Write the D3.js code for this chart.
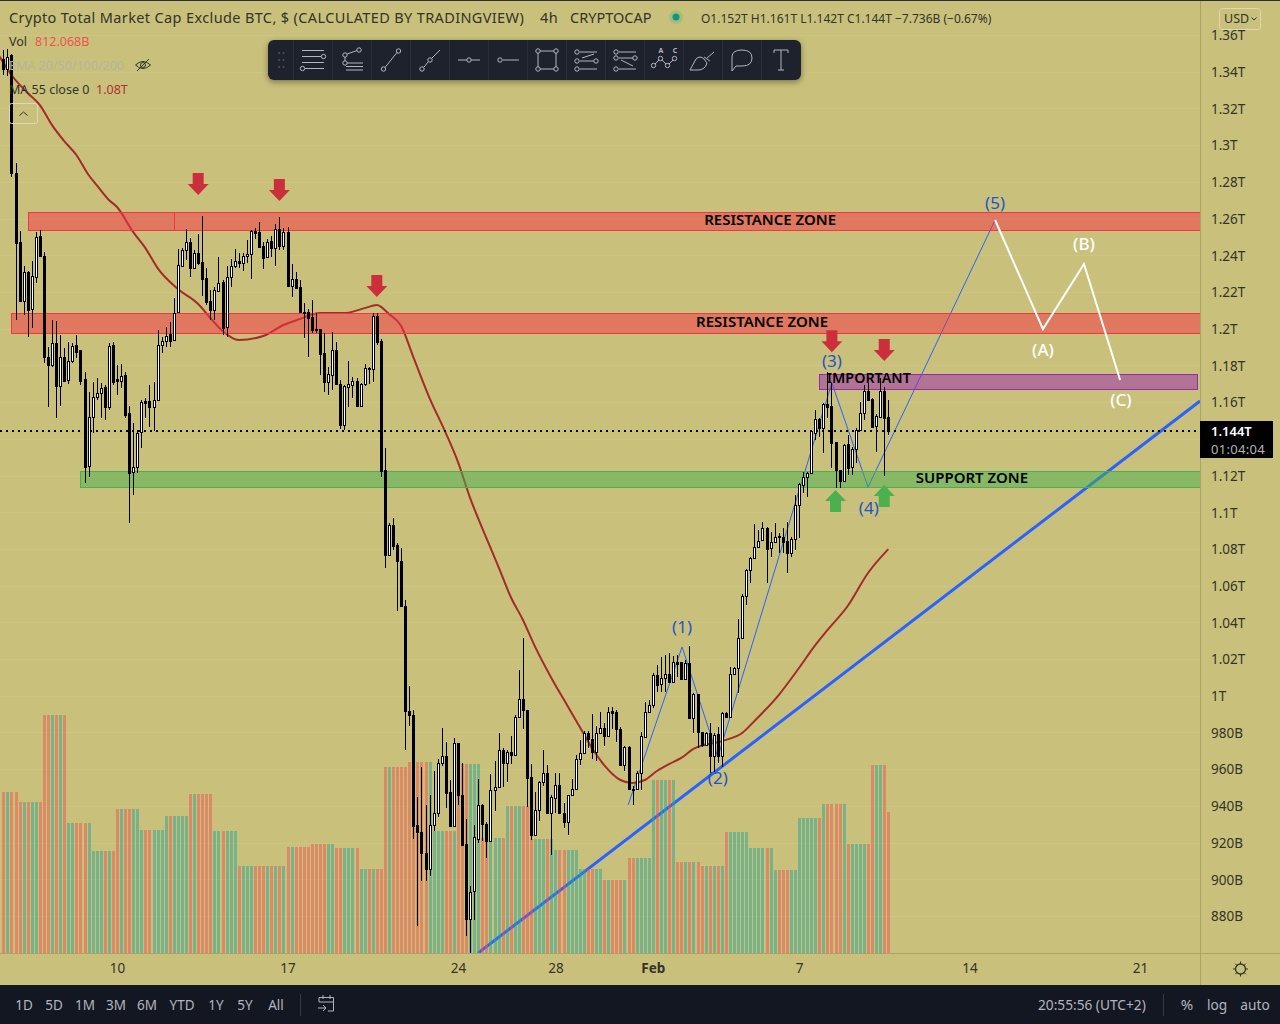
<!DOCTYPE html>
<html>
<head>
<meta charset="utf-8">
<script src="https://cdnjs.cloudflare.com/ajax/libs/d3/7.8.5/d3.min.js"></script>
<style>
html, body { margin: 0; padding: 0; background: #c9c17b; overflow: hidden; }
svg { display: block; font-family: "Noto Sans", sans-serif; }
</style>
</head>
<body>
<svg id="chart" width="1280" height="1024"></svg>
<script>
// candles are 4h, values in billions USD
const opens = [
  1346.9,1341.4,1349.1,1284.8,1247.2,1215.1,1230.9,1210.7,1228.1,1250.4,
  1239.6,1184.5,1180.2,1192.2,1168.7,1184.5,1172,1182.4,1191.1,1188.4,
  1172.6,1125.2,1151.8,1162.7,1164.9,1168.2,1157.3,1191.1,1172.6,1171.5,
  1174.7,1154,1121.9,1124.6,1143.7,1160.6,1160.6,1157.3,1161.1,1191.1,
  1193.3,1197.1,1193.8,1209.1,1234.1,1242.8,1247.2,1233,1241.2,1236.3,
  1227.6,1215.1,1210.2,1220.5,1225.4,1200.9,1228.1,1234.1,1236.8,1235.8,
  1239.6,1240.7,1253.2,1252.6,1245,1239,1247.7,1243.9,1254.3,1245,
  1252.6,1223.2,1227,1222.7,1209.1,1209.1,1206.3,1199.8,1199.8,1186.7,
  1170.9,1174.7,1188.4,1169.8,1147.5,1168.2,1169.3,1171.5,1157.8,1169.8,
  1178.5,1178,1206.9,1193.3,1123,1076.7,1093,1082.1,1073.4,1048.9,
  991.7,989.5,929.6,925.8,914.3,905.6,929.6,936,963.4,967.2,
  947.5,929,974.3,945.9,919.2,878.4,893.6,921.9,940.5,930.1,
  920.9,948.6,950.3,970.4,963.4,969.3,967.7,988.4,998.2,992.2,
  955.7,924.1,937.8,953,957.9,936,944.3,951.4,936,931.2,
  945.9,949.2,965.5,968.8,979.7,976.4,969.3,979.7,982.4,978,
  991.7,991.1,981.9,962.2,972.1,949.2,949.2,957.9,977.5,991.1,
  994.9,1011.3,1006.4,1009.7,1011.9,1007.5,1018.4,1018.4,1009.1,1017.8,
  987.9,1000.9,980.2,973.2,979.7,967.2,979.1,967.2,990.6,988.4,
  1011.9,1015.1,1031.5,1054.3,1068.5,1075,1081,1084.8,1091.4,1080.5,
  1083.8,1087,1086.5,1084.3,1077.8,1085.4,1103.9,1114.8,1119.2,1121.3,
  1143.1,1150.8,1145.9,1158.9,1157.8,1138.2,1123,1117,1137.1,1124.6,
  1134.4,1144.8,1154,1166,1161.7,1146.9,1151.8,1166,1151.8
]
const highs = [
  1351.8,1352.3,1349.6,1290.2,1253.2,1234.1,1231.4,1236.8,1252.6,1253.7,
  1241.7,1190,1204.7,1204.2,1196.5,1189.4,1192.7,1192.2,1196.5,1188.4,
  1176.4,1165.5,1170.9,1173.1,1170.4,1169.3,1192.2,1192.7,1180.2,1180.7,
  1176.4,1157.8,1148.6,1144.8,1161.1,1162.2,1169.3,1170.9,1199.3,1195.4,
  1200.9,1203.6,1216.7,1243.4,1243.9,1254.3,1249.4,1242.8,1251.5,1261.4,
  1233,1221.1,1222.7,1239,1226.5,1234.1,1237.9,1243.4,1241.2,1241.2,
  1248.3,1253.7,1254.8,1258.1,1247.2,1248.8,1250.4,1257,1260.8,1254.8,
  1255.4,1235.2,1230.9,1226.5,1213.9,1210.7,1215.6,1208.5,1199.8,1197.6,
  1179.1,1198.2,1192.7,1172,1169.3,1182.4,1173.6,1173.1,1170.4,1180.7,
  1179.1,1208.5,1208.5,1194.3,1135,1094.1,1096.8,1083.2,1080.5,1052.2,
  1005.3,992.2,944.8,961.2,940.5,945.9,959,965.5,982.4,974.8,
  954.1,977,974.3,963.4,932.9,896.3,929.6,954.6,941,931.2,
  957.4,964.4,979.7,971.5,970.4,978,989.5,1014,1031.5,992.2,
  962.8,947.5,953.5,970.4,962.2,945.9,957.9,957.9,941.6,945.9,
  954.6,967.7,975.9,980.8,980.8,990,983.5,991.1,985.1,993.9,
  993.9,992.2,983,972.6,972.6,950.8,959,980.2,996.6,997.7,
  1012.4,1016.7,1021.1,1022.2,1023.3,1021.6,1022.2,1018.4,1019.5,1027.1,
  1001.5,1000.9,980.2,980.2,985.1,979.7,983,991.1,991.1,1015.6,
  1015.6,1041.8,1055.4,1069,1075.6,1093.5,1090.3,1094.6,1091.9,1089.2,
  1094.1,1088.6,1091.4,1094.6,1086.5,1109.4,1115.9,1121.9,1121.9,1144.8,
  1155.7,1151.3,1159.5,1176.4,1170.4,1138.2,1123,1137.1,1142,1135.5,
  1145.9,1160,1169.3,1170.4,1162.2,1153.5,1173.1,1168.2,1161.1
]
const lows = [
  1338.2,1337.6,1282.6,1204.7,1214.5,1207.4,1195.4,1200.3,1224.9,1239.6,
  1181.3,1157.3,1179.1,1151.3,1157.8,1171.5,1169.8,1181.3,1184,1169.3,
  1115.9,1119.2,1143.1,1161.1,1151.3,1150.2,1155.7,1169.3,1163.8,1167.6,
  1151.3,1094.1,1109.4,1121.3,1134.9,1151.3,1146.4,1144.2,1161.1,1186.7,
  1190,1190,1193.3,1208.5,1234.1,1237.4,1228.1,1232.5,1234.7,1217.8,
  1212.9,1204.7,1204.7,1220.5,1196.5,1195.4,1222.7,1233,1233,1231.4,
  1235.8,1227,1248.8,1244.5,1232.5,1238.5,1239,1234.1,1242.8,1242.8,
  1223.2,1217.2,1222.1,1209.1,1194.9,1184.5,1197.6,1197.6,1174.7,1165.5,
  1163.8,1166.6,1169.3,1145.3,1144.8,1157.3,1162.2,1157.8,1157.3,1168.7,
  1169.8,1170.9,1191.1,1119.2,1069.6,1076.7,1079.4,1046.1,1048.9,970.4,
  983.5,921.9,874.6,899.1,899.1,901.8,926.3,933.9,961.7,938.8,
  929,929,940.5,918.7,869.1,859.8,877.8,919.8,920.9,911.6,
  920.9,937.2,950.3,950.3,953,962.8,967.7,988.4,981.9,939.4,
  921.4,923.6,931.8,950.8,936,913.2,936,936,927.9,924.1,
  945.9,948.6,962.2,968.3,971.5,965.5,964.4,979.7,972.6,977.5,
  981.9,974.8,962.2,959,948.6,940.5,948.6,948.6,977,990.6,
  993.3,1002,1002,1002,1007.5,1007.5,1010.2,1008.6,1008.6,987.9,
  979.7,971.5,972.1,973.2,956.8,958.5,963.4,961.1,987.9,988.4,
  1011.9,1001.5,1031.5,1049.4,1061.4,1075,1080.5,1084.3,1061.4,1075.6,
  1083.8,1077.8,1077.8,1066.9,1075.6,1079.4,1085.9,1110.5,1108.3,1121.3,
  1139.3,1140.9,1132.2,1151.3,1124,1113.2,1113.2,1116.4,1120.3,1120.3,
  1126.8,1144.8,1150.2,1160.6,1146.4,1132.8,1151.3,1119.7,1142
]
const closes = [
  1341.4,1348,1284.8,1246.6,1215.1,1230.9,1210.2,1228.7,1249.9,1239.6,
  1184.5,1180.2,1192.2,1168.7,1184.5,1171.5,1182.4,1190.5,1187.3,1171.5,
  1124.6,1151.8,1162.7,1164.9,1167.6,1157.3,1190.5,1170.9,1171.5,1174.2,
  1152.9,1121.3,1124.6,1143.1,1160,1159.5,1157.3,1161.1,1191.1,1193.3,
  1196,1193.3,1208.5,1234.7,1242.8,1247.2,1233,1241.2,1235.8,1227,
  1214.5,1210.2,1221.1,1224.9,1200.3,1228.1,1234.1,1236.8,1235.8,1239.6,
  1240.7,1253.2,1252.1,1244.5,1238.5,1247.2,1243.9,1254.3,1245,1252.6,
  1223.2,1227,1222.1,1209.1,1208.5,1205.8,1199.3,1199.3,1186.2,1170.9,
  1175.3,1188.4,1169.8,1147.5,1168.7,1169.8,1171.5,1157.8,1169.8,1178.5,
  1178,1206.9,1192.7,1122.4,1076.7,1093,1081.6,1073.4,1048.9,991.7,
  989.5,929,925.8,914.3,905.6,929.6,936,963.4,967.2,947,
  929,974.3,945.9,918.7,878.4,893.1,923,940.5,930.1,920.9,
  948.6,950.3,970.4,963.4,969.3,967.7,988.4,998.2,992.2,955.2,
  924.1,937.8,953,957.9,936,944.8,951.4,936,931.2,945.9,
  949.2,965.5,968.8,979.7,976.4,969.3,979.7,982.4,978,991.1,
  990.6,981.9,962.2,972.1,949.2,948.6,957.9,978,991.1,994.9,
  1011.3,1005.8,1009.7,1011.9,1007.5,1018.4,1017.3,1009.1,1017.8,987.9,
  1000.9,980.2,973.2,979.7,967.2,978.6,967.2,990.6,988.4,1011.9,
  1015.1,1031.5,1054.3,1068.5,1075,1081,1084.3,1091.4,1079.9,1083.8,
  1086.5,1086.5,1083.8,1077.8,1085.4,1103.9,1115.4,1119.2,1121.3,1144.2,
  1150.8,1145.9,1158.9,1157.3,1137.7,1123,1117,1136.6,1124,1134.4,
  1144.8,1154,1166,1161.1,1146.4,1152.4,1166,1151.3,1144
]

// the volume pane shows one value per day, each repeated on that day's candles
const dailyVolume = [
  927,870,1371,749,588,829,708,789,916,703,501,501,611,628,605,484,1071,1100,703,
  1089,662,847,657,593,484,420,547,996,524,501,697,605,478,778,858,628,1083
]
const lastVolume = 812.068

const maBars = [-1,2,6,9,12,15,18,21,23,26,28,32,35,38,43,48,51,54,58,64,69,73,78,84,89,92,95,98,101,105,109,112,115,119,122,125,128,131,135,139,143,145,148,152,155,158,161,164,167,170,177,182,185,191,196,200,203,208,213,218]
const maValues = [1348.5,1338.2,1328.4,1321.8,1310.9,1302.2,1294.6,1283.7,1278.2,1270.1,1266.3,1252.6,1243.9,1233,1221.6,1213.4,1205.8,1198.7,1193.8,1196,1202,1205.2,1208.5,1208.5,1211.2,1212.9,1208,1201.4,1184.5,1162.2,1143.1,1127.3,1107.7,1085.9,1070.1,1053.8,1041.3,1026.6,1009.7,994.4,979.1,971.5,962.2,954.1,952.4,954.1,959,962.8,966.1,971,975.3,979.7,986.2,1000.4,1015.1,1027.6,1035.8,1048.9,1066.9,1079.9]

const priceTicks = [880,900,920,940,960,980,1000,1020,1040,1060,1080,1100,1120,1140,1160,1180,1200,1220,1240,1260,1280,1300,1320,1340,1360]
const timeTickBars = [28,70,112,136,160,196,238,280]
const timeTickLabels = ["10","17","24","28","Feb","7","14","21"]

// drawings: bars and prices, the scales place them
const zoneNames = ["res1a","res1b","res2","support","important"]
const zoneFrom = [6.1,42,1.9,18.9,200.9]
const zoneTo = [42,294.8,294.8,294.8,294.1]
const zoneTop = [1263.5,1263.5,1208.5,1122.4,1175.3]
const zoneBottom = [1253.7,1253.7,1197.6,1113.7,1167.1]
const zoneKind = ["red","red","red","green","purple"]

const zoneLabels = ["RESISTANCE ZONE","RESISTANCE ZONE","SUPPORT ZONE","IMPORTANT"]
const zoneLabelBars = [188.9,186.9,238.6,213.2]
const zoneLabelPrices = [1259.2,1203.6,1118.6,1173.1]

const trendBars = [116.9,294.8]
const trendPrices = [859.8,1160.6]
const waveBars = [153.9,167.2,176,204.1,213,244.3]
const wavePrices = [940.5,1026.6,966.6,1170.4,1113.7,1259.2]
const correctionBars = [244.3,256.1,266.2,275.1]
const correctionPrices = [1259.2,1199.8,1235.2,1172]

const waveLabels = ["(1)","(2)","(3)","(4)","(5)"]
const waveLabelBars = [167.2,176,204.1,213.2,244.3]
const waveLabelPrices = [1037.4,955.2,1182.4,1102.3,1268.4]
const abcLabels = ["(A)","(B)","(C)"]
const abcLabelBars = [256.1,266.2,275.3]
const abcLabelPrices = [1188.4,1246.1,1161.1]

// arrow tips
const downArrowBars = [48,68,92,204.1,217]
const downArrowPrices = [1272.8,1269.5,1217.3,1187.2,1182.4]
const upArrowBars = [205,217]
const upArrowPrices = [1112.1,1114.8]

const lastPrice = 1144
const rangeButtons = ["1D","5D","1M","3M","6M","YTD","1Y","5Y","All"]
const rangeButtonX = [24,54,85,116,147,182,216,245,276]

const bg = "#c9c17b", dark = "#131722", grey = "#b2b5be", ink = "#33332a"

const svg = d3.select("#chart")

const x = d3.scaleLinear().domain([28, 280]).range([117, 1140])
const y = d3.scaleLinear().domain([880, 1360]).range([916, 35])
const volY = d3.scaleLinear().domain([0, 1372]).range([953, 715])

const dayOf = i => i < 4 ? 0 : 1 + Math.floor((i - 4) / 6)
const volumeOf = i => i === opens.length - 1 ? lastVolume : dailyVolume[dayOf(i)]
const isUp = i => closes[i] >= opens[i]

svg.append("rect").attr("width", 1280).attr("height", 1024).attr("fill", bg)
svg.append("defs").append("clipPath").attr("id", "pane")
  .append("rect").attr("width", 1200).attr("height", 953)

// faint grid
svg.append("g").selectAll("line").data(priceTicks).join("line")
  .attr("x1", 0).attr("x2", 1200)
  .attr("y1", d => Math.round(y(d)) + 0.5).attr("y2", d => Math.round(y(d)) + 0.5)
  .attr("stroke", "rgba(255,255,255,0.07)")

const pane = svg.append("g").attr("clip-path", "url(#pane)")

// trend line and the waves sit under the volume, it tints them
const lineOf = (bars, prices) => d3.line().x((d, i) => x(bars[i])).y((d, i) => y(prices[i]))(bars)
pane.append("path").attr("d", lineOf(trendBars, trendPrices))
  .attr("fill", "none").attr("stroke", "#2962ff").attr("stroke-width", 3)
pane.append("path").attr("d", lineOf(waveBars, wavePrices))
  .attr("fill", "none").attr("stroke", "#2962ff").attr("stroke-width", 1)

// MA 55
pane.append("path")
  .attr("d", d3.line().x((d, i) => x(maBars[i])).y(d => y(d)).curve(d3.curveMonotoneX)(maValues))
  .attr("fill", "none").attr("stroke", "#a52a2a").attr("stroke-width", 2)

// zones
const zoneFill = { red: "rgba(242,54,69,0.53)", green: "rgba(76,175,80,0.52)", purple: "rgba(156,39,176,0.5)" }
const zoneStroke = { red: "#f23645", green: "#4caf50", purple: "#9c27b0" }
pane.append("g").selectAll("rect").data(zoneNames).join("rect")
  .attr("x", (d, i) => Math.round(x(zoneFrom[i])) + 0.5)
  .attr("y", (d, i) => Math.round(y(zoneTop[i])) + 0.5)
  .attr("width", (d, i) => Math.round(x(zoneTo[i]) - x(zoneFrom[i])))
  .attr("height", (d, i) => Math.round(y(zoneBottom[i]) - y(zoneTop[i])))
  .attr("fill", (d, i) => zoneFill[zoneKind[i]])
  .attr("stroke", (d, i) => zoneStroke[zoneKind[i]])

// volume
pane.append("g").selectAll("rect").data(d3.range(opens.length)).join("rect")
  .attr("x", i => Math.round(x(i)) - 1)
  .attr("width", 3)
  .attr("y", i => Math.round(volY(volumeOf(i))))
  .attr("height", i => 953 - Math.round(volY(volumeOf(i))))
  .attr("fill", i => isUp(i) ? "rgba(38,166,154,0.5)" : "rgba(239,83,80,0.5)")

// candles
const candles = pane.append("g").selectAll("g").data(d3.range(opens.length)).join("g")
  .attr("shape-rendering", "crispEdges")
candles.append("rect")
  .attr("x", i => Math.round(x(i)))
  .attr("width", 1)
  .attr("y", i => y(highs[i]))
  .attr("height", i => y(lows[i]) - y(highs[i]))
  .attr("fill", "#000")
candles.append("rect")
  .attr("x", i => Math.round(x(i)) - 0.5)
  .attr("width", 2)
  .attr("y", i => Math.round(y(Math.max(opens[i], closes[i]))) + 0.5)
  .attr("height", i => Math.max(1, Math.round(y(Math.min(opens[i], closes[i])) - y(Math.max(opens[i], closes[i])))))
  .attr("fill", i => isUp(i) ? "#fff" : "#000")
  .attr("stroke", "#000")

// arrows and labels on top
const arrowDown = (px, py) => {
  const p = d3.path()
  p.moveTo(px, py); p.lineTo(px - 10.5, py - 11); p.lineTo(px - 5.5, py - 11); p.lineTo(px - 5.5, py - 22)
  p.lineTo(px + 5.5, py - 22); p.lineTo(px + 5.5, py - 11); p.lineTo(px + 10.5, py - 11); p.closePath()
  return p.toString()
}
const arrowUp = (px, py) => {
  const p = d3.path()
  p.moveTo(px, py); p.lineTo(px - 10.5, py + 11); p.lineTo(px - 5.5, py + 11); p.lineTo(px - 5.5, py + 22)
  p.lineTo(px + 5.5, py + 22); p.lineTo(px + 5.5, py + 11); p.lineTo(px + 10.5, py + 11); p.closePath()
  return p.toString()
}
pane.append("g").selectAll("path").data(downArrowBars).join("path")
  .attr("d", (d, i) => arrowDown(x(d), y(downArrowPrices[i]))).attr("fill", "#cc2f3c")
pane.append("g").selectAll("path").data(upArrowBars).join("path")
  .attr("d", (d, i) => arrowUp(x(d), y(upArrowPrices[i]))).attr("fill", "#4caf50")

pane.append("path").attr("d", lineOf(correctionBars, correctionPrices))
  .attr("fill", "none").attr("stroke", "#fff").attr("stroke-width", 2)

pane.append("g").selectAll("text").data(zoneLabels).join("text")
  .attr("x", (d, i) => x(zoneLabelBars[i])).attr("y", (d, i) => y(zoneLabelPrices[i]) + 5)
  .attr("text-anchor", "middle").attr("font-size", d => d === "IMPORTANT" ? 14.3 : 15)
  .attr("font-weight", 600).attr("fill", "#000")
  .text(d => d)
pane.append("g").selectAll("text").data(waveLabels).join("text")
  .attr("x", (d, i) => x(waveLabelBars[i])).attr("y", (d, i) => y(waveLabelPrices[i]) + 6)
  .attr("text-anchor", "middle").attr("font-size", 17).attr("fill", "#2255c8")
  .text(d => d)
pane.append("g").selectAll("text").data(abcLabels).join("text")
  .attr("x", (d, i) => x(abcLabelBars[i])).attr("y", (d, i) => y(abcLabelPrices[i]) + 6)
  .attr("text-anchor", "middle").attr("font-size", 17).attr("font-weight", 500).attr("fill", "#fff")
  .text(d => d)

// last price line
svg.append("line").attr("x1", 0).attr("x2", 1200)
  .attr("y1", Math.round(y(lastPrice))).attr("y2", Math.round(y(lastPrice)))
  .attr("stroke", "#000").attr("stroke-width", 2).attr("stroke-dasharray", "2 4")

// axes
const priceAxis = d3.axisRight(y).tickValues(priceTicks.filter(d => d !== 1140)).tickSize(0).tickPadding(11)
  .tickFormat(d => d >= 1000 ? (d / 1000) + "T" : d + "B")
const priceG = svg.append("g").attr("transform", "translate(1200,0.5)").call(priceAxis)
priceG.select(".domain").remove()
priceG.selectAll("text").attr("font-size", 13.5).attr("fill", ink).attr("font-family", "Noto Sans")

const timeAxis = d3.axisBottom(x).tickValues(timeTickBars).tickSize(0).tickPadding(10)
  .tickFormat((d, i) => timeTickLabels[i])
const timeG = svg.append("g").attr("transform", "translate(0,953)").call(timeAxis)
timeG.select(".domain").remove()
timeG.selectAll("text").attr("font-size", 13.5).attr("fill", ink).attr("font-family", "Noto Sans")
  .attr("font-weight", (d, i) => timeTickLabels[i] === "Feb" ? 700 : 400)

svg.append("line").attr("x1", 1200.5).attr("x2", 1200.5).attr("y1", 0).attr("y2", 985).attr("stroke", "#aba468")
svg.append("line").attr("x1", 0).attr("x2", 1280).attr("y1", 953.5).attr("y2", 953.5).attr("stroke", "#aba468")

// last price tag
svg.append("rect").attr("x", 1200).attr("y", 421).attr("width", 73).attr("height", 37).attr("fill", "#000")
svg.append("text").attr("x", 1211).attr("y", 436).attr("font-size", 13).attr("font-weight", 600).attr("fill", "#fff").text("1.144T")
svg.append("text").attr("x", 1211).attr("y", 453.5).attr("font-size", 13).attr("letter-spacing", 0.3).attr("fill", "#b5b5b5").text("01:04:04")

// header
svg.append("rect").attr("width", 1280).attr("height", 1).attr("fill", "#2a2e39")
const header = svg.append("g").attr("font-size", 14.5).attr("fill", ink).attr("letter-spacing", 0.37)
header.append("text").attr("x", 9).attr("y", 23).text("Crypto Total Market Cap Exclude BTC, $ (CALCULATED BY TRADINGVIEW)")
header.append("text").attr("x", 540).attr("y", 23).text("4h")
header.append("text").attr("x", 570).attr("y", 23).attr("letter-spacing", 0).text("CRYPTOCAP")
svg.append("circle").attr("cx", 676).attr("cy", 17).attr("r", 7).attr("fill", "rgba(8,153,129,0.15)")
svg.append("circle").attr("cx", 676).attr("cy", 17).attr("r", 3.5).attr("fill", "#089981")
svg.append("text").attr("x", 701).attr("y", 23).attr("font-size", 12).attr("fill", ink)
  .text("O1.152T H1.161T L1.142T C1.144T −7.736B (−0.67%)")

const legend = svg.append("g").attr("font-size", 12.5)
legend.append("text").attr("x", 9).attr("y", 46).attr("fill", ink).text("Vol")
legend.append("text").attr("x", 35).attr("y", 46).attr("fill", "#ef5350").text("812.068B")
legend.append("text").attr("x", 9).attr("y", 70).attr("fill", "#b4b5a0").text("EMA 20/50/100/200")
legend.append("text").attr("x", 9).attr("y", 94).attr("fill", ink).text("MA 55 close 0")
legend.append("text").attr("x", 96).attr("y", 94).attr("fill", "#b03030").text("1.08T")

// hidden eye icon
const eye = svg.append("g").attr("transform", "translate(143,65)").attr("fill", "none").attr("stroke", ink)
eye.append("path").attr("d", "M-7.5,0 Q0,-7 7.5,0 Q0,7 -7.5,0")
eye.append("circle").attr("r", 2.5)
eye.append("path").attr("d", "M-6,6 L6,-6")

svg.append("rect").attr("x", 9.5).attr("y", 103.5).attr("width", 28).attr("height", 20).attr("rx", 2)
  .attr("fill", "none").attr("stroke", "#dcd9b4")
svg.append("path").attr("d", "M19.5,115.5 L23.5,112 L27.5,115.5").attr("fill", "none").attr("stroke", ink)

// currency button
svg.append("rect").attr("x", 1219.5).attr("y", 8.5).attr("width", 41).attr("height", 21).attr("rx", 3)
  .attr("fill", bg).attr("stroke", "#dcd9b4")
svg.append("text").attr("x", 1224).attr("y", 23).attr("font-size", 12.5).attr("fill", ink).text("USD")
svg.append("path").attr("d", "M1251.5,17.5 L1254,20 L1256.5,17.5").attr("fill", "none").attr("stroke", ink)

// gear
const gear = svg.append("g").attr("transform", "translate(1240.5,969)").attr("fill", "none").attr("stroke", ink)
gear.append("circle").attr("r", 5).attr("stroke-width", 1.3)
gear.selectAll("line").data(d3.range(8)).join("line")
  .attr("x1", d => 5 * Math.cos(d * Math.PI / 4)).attr("y1", d => 5 * Math.sin(d * Math.PI / 4))
  .attr("x2", d => 7.5 * Math.cos(d * Math.PI / 4)).attr("y2", d => 7.5 * Math.sin(d * Math.PI / 4))

// bottom bar
svg.append("rect").attr("y", 985).attr("width", 1280).attr("height", 39).attr("fill", dark)
svg.append("g").attr("font-size", 13.5).attr("fill", grey).selectAll("text").data(rangeButtons).join("text")
  .attr("x", (d, i) => rangeButtonX[i]).attr("y", 1010).attr("text-anchor", "middle").text(d => d)
svg.append("line").attr("x1", 300.5).attr("x2", 300.5).attr("y1", 994).attr("y2", 1016).attr("stroke", "#363a45")
svg.append("path").attr("d", "M319,1002 V997.5 H333.5 V1011 H328 M319,1002 H333.5 M323,995 V999 M330,995 V999 M318,1008 H326 M323,1005 L326,1008 L323,1011")
  .attr("fill", "none").attr("stroke", grey)
const rightBar = svg.append("g").attr("font-size", 13.7).attr("fill", grey)
rightBar.append("text").attr("x", 1038).attr("y", 1010).text("20:55:56 (UTC+2)")
rightBar.append("text").attr("x", 1187).attr("y", 1010).attr("text-anchor", "middle").attr("font-size", 15).text("%")
rightBar.append("text").attr("x", 1217).attr("y", 1010).attr("text-anchor", "middle").text("log")
rightBar.append("text").attr("x", 1255).attr("y", 1010).attr("text-anchor", "middle").text("auto")
svg.append("line").attr("x1", 1163.5).attr("x2", 1163.5).attr("y1", 994).attr("y2", 1016).attr("stroke", "#363a45")

// floating drawing toolbar
const toolbar = svg.append("g").style("filter", "drop-shadow(0 2px 3px rgba(0,0,0,0.4))")
toolbar.append("rect").attr("x", 268).attr("y", 40).attr("width", 533).attr("height", 40).attr("rx", 6).attr("fill", "#1e222d")
const toolCenters = [313,352,391,430,469,508,547,586,625,664,703,742,781]
svg.append("g").selectAll("line").data(toolCenters).join("line")
  .attr("x1", d => d - 19.5).attr("x2", d => d - 19.5).attr("y1", 40).attr("y2", 80).attr("stroke", "#2a2e39")
const dots = [[279,53],[283.5,53],[279,60],[283.5,60],[279,67],[283.5,67]]
svg.append("g").selectAll("circle").data(dots).join("circle")
  .attr("cx", d => d[0]).attr("cy", d => d[1]).attr("r", 1).attr("fill", "#50535e")

const toolPaths = [
  "M-11,-9.5H11 M-11,-3.5H8 M-11,2.5H11 M-8,8.5H11",
  "M-5,-6L5,-9.5 M-7,-3V1 M-5,3H11 M-6,6.5H11 M-6,10H11",
  "M-6,7.5L6,-7.5",
  "M-6,7L-2,2 M2,-2L10,-10",
  "M-11,0H-2 M2,0H11",
  "M-5,0H11",
  "M-7,-9H7 M-7,9H7 M-9,-7V7 M9,-7V7",
  "M-6,-8H11 M-6,1H8 M-6,9H11 M-4,-2L8,-6",
  "M-6,-8H11 M-6,-2H8 M-6,9H11 M-4,0L8,6",
  "M-9,4L-5,0 M-2,0L2,4 M5,4L9,0",
  "M-13,10L-7,-1Q-3,-5 1,-1L4,3Q2,10 -5,10Z M1,-3L7,1 M4,-2L11,-8",
  "M-10,-3Q-10,-10 0,-10Q10,-10 10,-2Q10,6 0,6L-6,6L-10,11Z",
  "M-7,-10H7 M-7,-10V-7 M7,-10V-7 M0,-10V10 M-3,10H3"
]
const toolCircles = [
  [[10.5,-3.5],[-10.5,8.5]],
  [[-7,-5],[7,-10],[-7,3]],
  [[-7.5,9],[7.5,-9]],
  [[-8,9],[0,0]],
  [[0,0]],
  [[-8,0]],
  [[-9,-9],[9,-9],[-9,9],[9,9]],
  [[-9,-8],[-9,1],[10,1],[-9,9]],
  [[-9,-8],[-9,-2],[10,-2],[-9,9]],
  [[-10.5,5.5],[-3.5,-1.5],[3.5,5.5],[10.5,-1.5]],
  [],[],[]
]
const tools = svg.append("g").selectAll("g").data(toolCenters).join("g")
  .attr("transform", d => `translate(${d},60)`)
  .attr("fill", "none").attr("stroke", grey)
tools.append("path").attr("d", (d, i) => toolPaths[i])
tools.selectAll("circle").data((d, i) => toolCircles[i]).join("circle")
  .attr("cx", d => d[0]).attr("cy", d => d[1]).attr("r", 2.2)
svg.append("g").attr("font-size", 7).attr("font-weight", 700).attr("fill", grey).selectAll("text")
  .data([["A", 661],["C", 675]]).join("text")
  .attr("x", d => d[1]).attr("y", 53).attr("text-anchor", "middle").text(d => d[0])
</script>
</body>
</html>
